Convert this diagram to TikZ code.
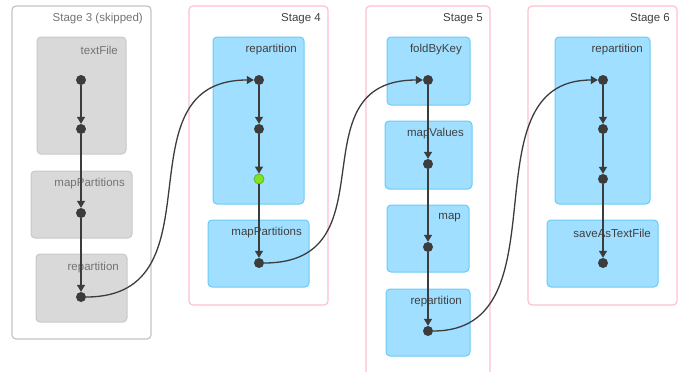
\documentclass[tikz,border=0pt]{standalone}
\usepackage{fontspec}
\setmainfont{Liberation Sans}
\usetikzlibrary{arrows.meta}
\definecolor{stagepink}{HTML}{FFC0CB}
\definecolor{skipgrey}{HTML}{C4C4C4}
\definecolor{opblue}{HTML}{A0DFFF}
\definecolor{opblueedge}{HTML}{6CCBF5}
\definecolor{opgrey}{HTML}{D9D9D9}
\definecolor{opgreyedge}{HTML}{C8C8C8}
\definecolor{dotdark}{HTML}{3C3C3C}
\definecolor{cachegreen}{HTML}{7FE320}
\definecolor{cacheedge}{HTML}{5EB52A}
\tikzset{
  stagebox/.style={draw=stagepink, line width=1.2pt, rounded corners=4pt},
  skipbox/.style={draw=skipgrey, line width=1.2pt, rounded corners=4pt},
  opbox/.style={draw=opblueedge, fill=opblue, line width=1pt, rounded corners=4pt},
  gopbox/.style={draw=opgreyedge, fill=opgrey, line width=1pt, rounded corners=4pt},
  lblbase/.style={anchor=east, inner sep=0pt, font=\fontsize{11.5}{13}\selectfont},
  stagelbl/.style={lblbase, text=black!75},
  oplbl/.style={lblbase, text=black!75},
  goplbl/.style={lblbase, text=black!55},
  rdd/.style={circle, fill=dotdark, minimum size=10pt, inner sep=0pt},
  cached/.style={circle, fill=cachegreen, draw=cacheedge, line width=0.8pt, minimum size=10pt, inner sep=0pt},
  flow/.style={draw=dotdark, line width=1.3pt, -{Triangle[width=8pt,length=7pt]}},
}
\begin{document}
\begin{tikzpicture}[x=1pt, y=-1pt]
\useasboundingbox (0,0) rectangle (678,372);

% Stage 3 (skipped)
\draw[skipbox] (12,6) rectangle (151,339);
\node[stagelbl, text=black!55] at (143,19) {Stage 3 (skipped)};
\draw[gopbox] (37,37) rectangle (126,154);
\node[goplbl] at (118,50) {textFile};
\draw[gopbox] (31,171) rectangle (132,238);
\node[goplbl] at (125,184) {mapPartitions};
\draw[gopbox] (36,254) rectangle (127,322);
\node[goplbl] at (119,268) {repartition};

% Stage 4
\draw[stagebox] (189,6) rectangle (328,305);
\node[stagelbl] at (321,19) {Stage 4};
\draw[opbox] (213,37) rectangle (304,204);
\node[oplbl] at (297,50) {repartition};
\draw[opbox] (208,220) rectangle (309,287);
\node[oplbl] at (302,233) {mapPartitions};

% Stage 5 (runs past the lower edge)
\draw[stagebox] (366,380) -- (366,6) -- (490,6) -- (490,380);
\node[stagelbl] at (483,19) {Stage 5};
\draw[opbox] (387,37) rectangle (470,105);
\node[oplbl] at (462,50) {foldByKey};
\draw[opbox] (385,121) rectangle (472,189);
\node[oplbl] at (464,134) {mapValues};
\draw[opbox] (387,205) rectangle (469,272);
\node[oplbl] at (461,218) {map};
\draw[opbox] (386,289) rectangle (470,356);
\node[oplbl] at (462,302) {repartition};

% Stage 6
\draw[stagebox] (528,6) rectangle (677,305);
\node[stagelbl] at (670,19) {Stage 6};
\draw[opbox] (555,37) rectangle (650,204);
\node[oplbl] at (643,50) {repartition};
\draw[opbox] (547,220) rectangle (658,287);
\node[oplbl] at (651,233) {saveAsTextFile};

% RDD dots
\node[rdd] (a1) at (81,80) {};
\node[rdd] (a2) at (81,129) {};
\node[rdd] (a3) at (81,213) {};
\node[rdd] (a4) at (81,297) {};

\node[rdd] (b1) at (259,80) {};
\node[rdd] (b2) at (259,129) {};
\node[cached] (b3) at (259,179) {};
\node[rdd] (b4) at (259,263) {};

\node[rdd] (c1) at (428,80) {};
\node[rdd] (c2) at (428,164) {};
\node[rdd] (c3) at (428,247) {};
\node[rdd] (c4) at (428,331) {};

\node[rdd] (d1) at (603,80) {};
\node[rdd] (d2) at (603,129) {};
\node[rdd] (d3) at (603,179) {};
\node[rdd] (d4) at (603,263) {};

% Dependencies within stages
\draw[flow] (a1) -- (a2);
\draw[flow] (a2) -- (a3);
\draw[flow] (a3) -- (a4);
\draw[flow] (b1) -- (b2);
\draw[flow] (b2) -- (b3);
\draw[flow] (b3) -- (b4);
\draw[flow] (c1) -- (c2);
\draw[flow] (c2) -- (c3);
\draw[flow] (c3) -- (c4);
\draw[flow] (d1) -- (d2);
\draw[flow] (d2) -- (d3);
\draw[flow] (d3) -- (d4);

% Shuffle dependencies between stages
\draw[flow] (a4.east) .. controls +(138,0) and +(-138,0) .. (b1.west);
\draw[flow] (b4.east) .. controls +(130,0) and +(-130,0) .. (c1.west);
\draw[flow] (c4.east) .. controls +(135,0) and +(-135,0) .. (d1.west);
\end{tikzpicture}
\end{document}
